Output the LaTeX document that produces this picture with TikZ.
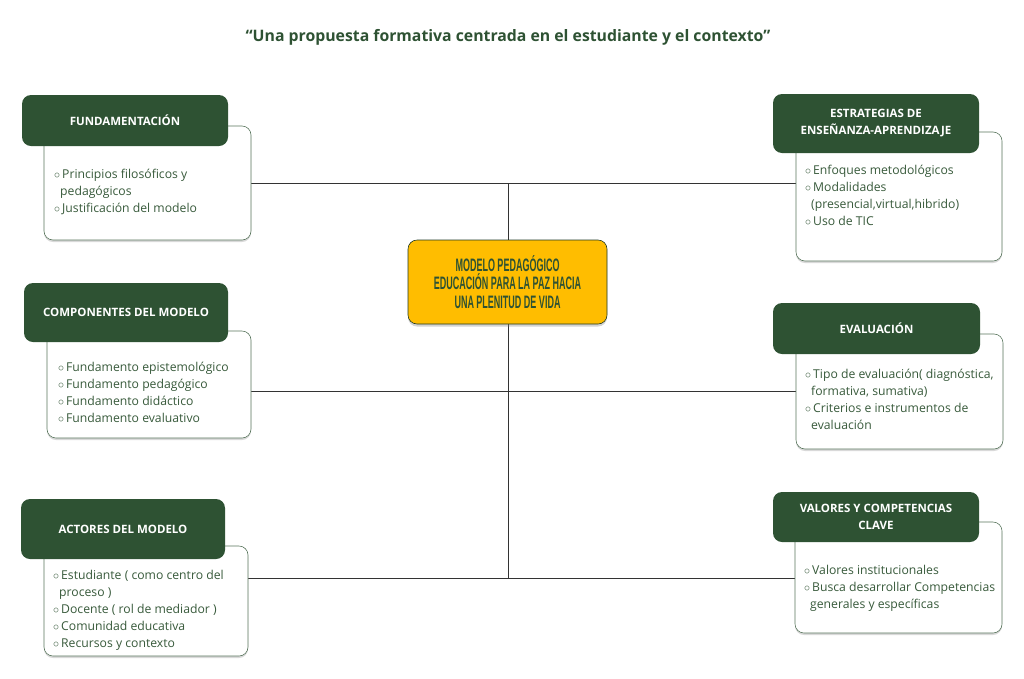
\documentclass[tikz,border=0pt]{standalone}
\usepackage{fontspec}
\setmainfont{Open Sans}
\newfontfamily\condfont[FakeStretch=0.5]{Liberation Sans}
\usetikzlibrary{shadows,backgrounds}

\definecolor{verde}{HTML}{2E5233}
\definecolor{verdetxt}{HTML}{385A3B}
\definecolor{ambar}{HTML}{FFBD00}
\definecolor{linea}{HTML}{333333}

\newcommand\itm{\makebox[8pt][l]{$\circ$}}
\newcommand\cnt{\hspace*{6pt}}

\tikzstyle{caja}=[rectangle, rounded corners=9pt, draw=verde!80, line width=0.6pt, fill=white, drop shadow={shadow xshift=0pt, shadow yshift=-2pt, opacity=0.3}]
\tikzstyle{cabecera}=[rectangle, rounded corners=9pt, fill=verde, text=white, align=center, inner sep=0pt, font=\bfseries\fontsize{11.5}{17}\selectfont]
\tikzstyle{lista}=[anchor=west, align=left, inner sep=0pt, text=verdetxt, font=\fontsize{12.2}{17}\selectfont]
\tikzstyle{centro}=[rectangle, rounded corners=9pt, draw=verde!70!black, line width=0.6pt, fill=ambar, text=verde, align=center, font=\condfont\bfseries\fontsize{18}{18.5}\selectfont, drop shadow={shadow xshift=0pt, shadow yshift=-2.5pt, opacity=0.35}]

\begin{document}
\begin{tikzpicture}[x=1pt, y=-1pt]
\useasboundingbox (0,0) rectangle (1024,678);

\node[text=verde, font=\bfseries\fontsize{15.8}{17}\selectfont](titulo) at (508,37) {“Una propuesta formativa centrada en el estudiante y el contexto”};

\node[centro, minimum width=199pt, minimum height=84pt](cent) at (507.5,282) {MODELO PEDAGÓGICO\\EDUCACIÓN PARA LA PAZ HACIA\\UNA PLENITUD DE VIDA};

\node[caja, minimum width=207pt, minimum height=114pt](fund) at (147.5,183) {};
\node[cabecera, minimum width=206pt, minimum height=51pt](fundcab) at (125,120.5) {FUNDAMENTACIÓN};
\node[lista](fundtxt) at (54,192) {\itm Principios filosóficos y\\\cnt pedagógicos\\\itm Justificación del modelo};

\node[caja, minimum width=204pt, minimum height=107pt](comp) at (149,384.5) {};
\node[cabecera, minimum width=204pt, minimum height=59pt](compcab) at (126,312.5) {COMPONENTES DEL MODELO};
\node[lista](comptxt) at (58,392.5) {\itm Fundamento epistemológico\\\itm Fundamento pedagógico\\\itm Fundamento didáctico\\\itm Fundamento evaluativo};

\node[caja, minimum width=204pt, minimum height=110pt](act) at (146,601) {};
\node[cabecera, minimum width=204pt, minimum height=60pt](actcab) at (123,529) {ACTORES DEL MODELO};
\node[lista](acttxt) at (53,610.5) {\itm Estudiante ( como centro del\\\cnt proceso )\\\itm Docente ( rol de mediador )\\\itm Comunidad educativa\\\itm Recursos y contexto};

\node[caja, minimum width=206pt, minimum height=129pt](estr) at (899,196.5) {};
\node[cabecera, minimum width=206pt, minimum height=59pt](estrcab) at (876,123.5) {ESTRATEGIAS DE\\ENSEÑANZA-APRENDIZAJE};
\node[lista](estrtxt) at (805,195.5) {\itm Enfoques metodológicos\\\itm Modalidades\\\cnt (presencial,virtual,hibrido)\\\itm Uso de TIC};

\node[caja, minimum width=207pt, minimum height=115pt](eval) at (899.5,391.5) {};
\node[cabecera, minimum width=207pt, minimum height=51pt](evalcab) at (876.5,328.5) {EVALUACIÓN};
\node[lista](evaltxt) at (805,399.5) {\itm Tipo de evaluación( diagnóstica,\\\cnt formativa, sumativa)\\\itm Criterios e instrumentos de\\\cnt evaluación};

\node[caja, minimum width=207pt, minimum height=111pt](val) at (898.5,577.5) {};
\node[cabecera, minimum width=206pt, minimum height=50pt](valcab) at (876,517) {VALORES Y COMPETENCIAS\\CLAVE};
\node[lista](valtxt) at (804,588) {\itm Valores institucionales\\\itm Busca desarrollar Competencias\\\cnt generales y específicas};

\coordinate (j1) at (508,183);
\coordinate (j2) at (508,391);
\coordinate (j3) at (508,578);

\begin{scope}[on background layer, every path/.style={draw=linea, line width=0.9pt}]
       \draw (fund.east |- j1) -- (estr.west |- j1);
       \draw (comp.east |- j2) -- (eval.west |- j2);
       \draw (act.east |- j3) -- (val.west |- j3);
       \draw (j1) -- (j3);
\end{scope}
\end{tikzpicture}
\end{document}
